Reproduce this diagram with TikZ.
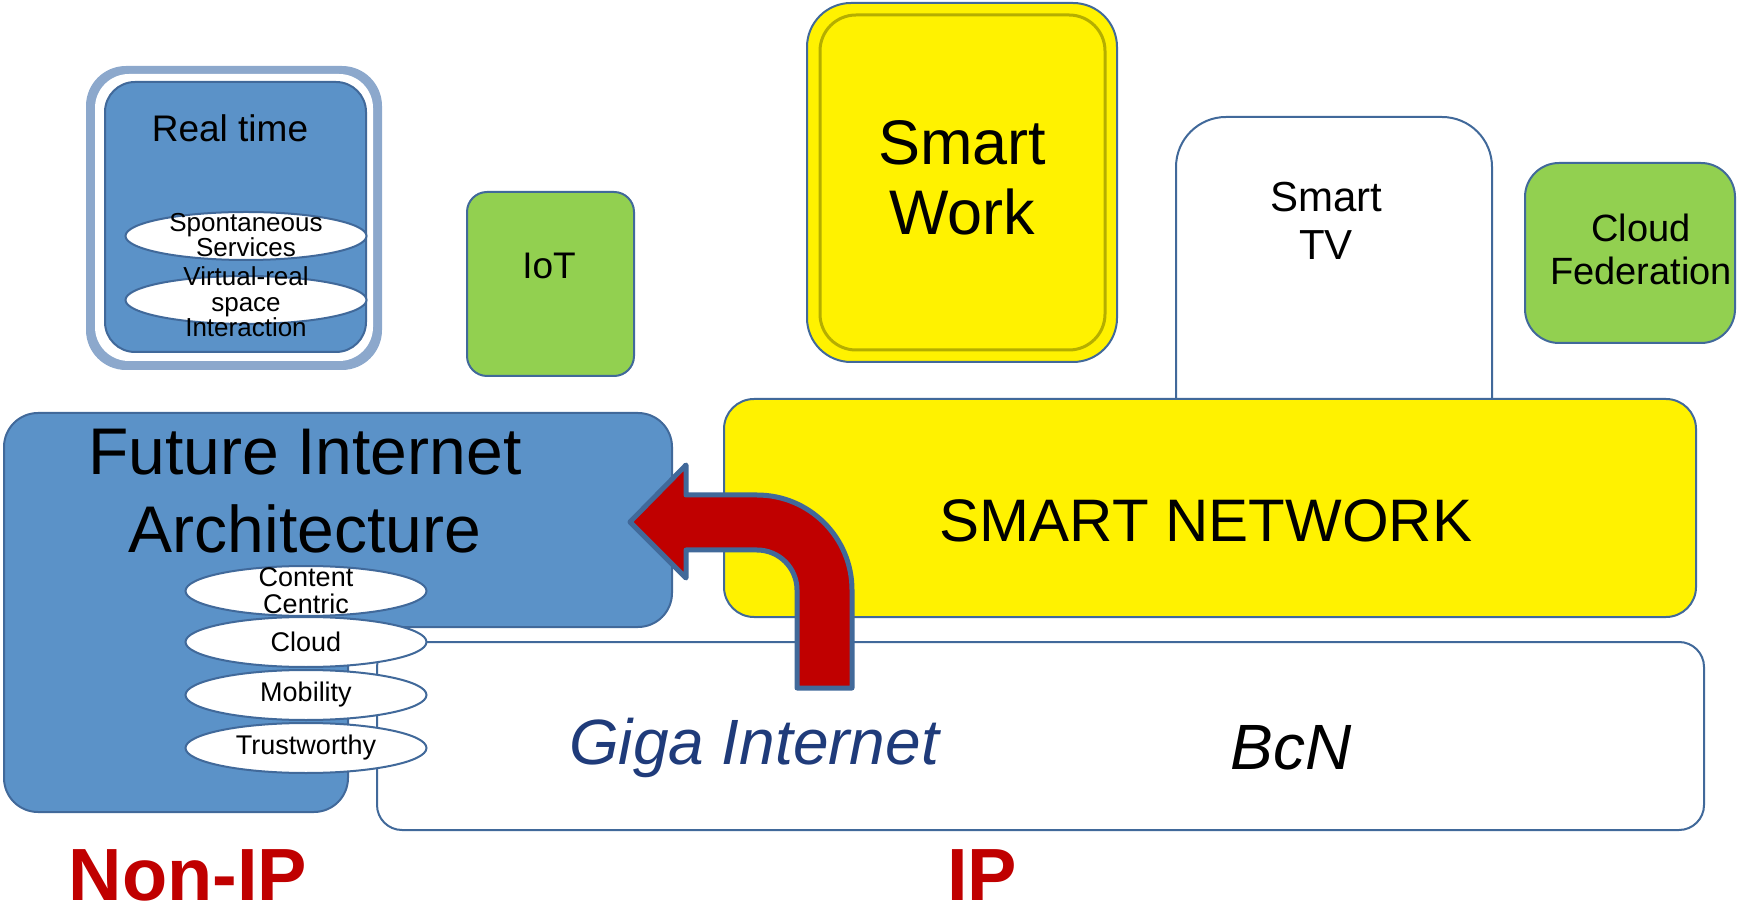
\documentclass[tikz,border=0pt]{standalone}
\usepackage{fontspec}
\setmainfont{Liberation Sans}
\usetikzlibrary{shapes.geometric,positioning}

\begin{document}
\begin{tikzpicture}[x=0.5pt,y=-0.5pt]
  % Colors
  \definecolor{fiablue}{HTML}{5B92C8}
  \definecolor{edgeblue}{HTML}{41699A}
  \definecolor{haloblue}{HTML}{8CA8CC}
  \definecolor{leafgreen}{HTML}{92D050}
  \definecolor{darkolive}{HTML}{B5AE00}
  \definecolor{arrowred}{HTML}{C00000}
  \definecolor{giganavy}{HTML}{1F3B7A}

  % Styles
  \tikzstyle{box}=[draw=edgeblue,line width=1pt,inner sep=0pt]
  \tikzstyle{oval}=[ellipse,draw=edgeblue,line width=1pt,fill=white,minimum width=120.5pt,minimum height=25pt,inner sep=0pt]
  \tikzstyle{oval text}=[align=center,inner sep=0pt,font=\fontsize{13.5}{13.5}\selectfont]
  \tikzstyle{big text}=[align=center,font=\fontsize{32}{38}\selectfont]
  \tikzstyle{side label}=[font=\bfseries\fontsize{37}{40}\selectfont,text=arrowred]

  \useasboundingbox (0,0) rectangle (1738,913);

  % Real time
  \node[fill=haloblue,rounded corners=20pt,minimum width=148pt,minimum height=152pt] (rthalo) at (234,218) {};
  \node[fill=white,rounded corners=17pt,minimum width=139pt,minimum height=143.5pt] (rtring) at (234,217.5) {};
  \node[box,fill=fiablue,rounded corners=15pt,minimum width=130.5pt,minimum height=135pt] (rtbox) at (235.5,217) {};
  \node[font=\fontsize{18.5}{20}\selectfont] (rtlabel) at (230,128) {Real time};
  \node[oval,minimum height=24pt] (spont) at (246,236) {};
  \node[oval text,font=\fontsize{13}{12.5}\selectfont] at (246,235.5) {Spontaneous\\Services};
  \node[oval,minimum height=24pt] (virtual) at (246,300) {};
  \node[oval text,font=\fontsize{13}{12.8}\selectfont] at (246,302) {Virtual-real\\space\\Interaction};

  % IoT
  \node[box,fill=leafgreen,rounded corners=10pt,minimum width=83.5pt,minimum height=92pt] (iot) at (550.5,284) {};
  \node[font=\fontsize{18.5}{20}\selectfont] (iotlabel) at (549,266) {IoT};

  % Smart Work
  \node[box,fill=yellow,rounded corners=22pt,minimum width=155pt,minimum height=179.5pt] (work) at (962,182.5) {};
  \node[draw=darkolive,line width=1.5pt,rounded corners=18pt,minimum width=142.5pt,minimum height=167.5pt] (workin) at (962.5,182.5) {};
  \node[big text,font=\fontsize{31.5}{35}\selectfont] (worklabel) at (962,178) {Smart\\Work};

  % Smart TV and Cloud Federation
  \draw[box,fill=white,rounded corners=25pt] (1176,460) -- (1176,117) -- (1492,117) -- (1492,460);
  \node[align=center,font=\fontsize{21}{24}\selectfont] (tvlabel) at (1326,221) {Smart\\TV};
  \node[box,fill=leafgreen,rounded corners=17pt,minimum width=105pt,minimum height=90pt] (cloudfed) at (1630,253) {};
  \node[align=center,font=\fontsize{19}{21.5}\selectfont] (cloudlabel) at (1641,249) {Cloud\\Federation};

  % Smart network
  \node[box,fill=yellow,rounded corners=15pt,minimum width=486pt,minimum height=109pt] (smartnet) at (1210,508) {};
  \node[font=\fontsize{30}{34}\selectfont] (netlabel) at (1206,521) {SMART NETWORK};

  % Future Internet Architecture
  \draw[box,fill=fiablue,rounded corners=17pt] (4,413) -- (672,413) -- (672,627) -- (348,627) -- (348,812) -- (4,812) -- cycle;
  \node[big text,font=\fontsize{33}{39}\selectfont] (fialabel) at (305,491) {Future Internet\\Architecture};

  % Giga Internet / BcN
  \node[box,fill=white,rounded corners=12.5pt,minimum width=663.5pt,minimum height=94pt] (giga) at (1040.5,736) {};
  \node[font=\itshape\fontsize{32}{36}\selectfont,text=giganavy] (gigalabel) at (754,748) {Giga Internet};
  \node[font=\itshape\fontsize{32}{36}\selectfont] (bcnlabel) at (1291,748) {BcN};

  \foreach \nm/\yy/\txt in {content/591/{Content\\Centric},cloud/642/Cloud,mobility/695/Mobility,trust/748/Trustworthy}{
    \node[oval] (\nm) at (306,\yy) {};
    \node[oval text] at (\nm) {\txt};
  }

  % the bent arrow
  \draw[draw=edgeblue,fill=arrowred,line width=2.5pt,line join=round]
    (630,522) -- (686,465) -- (686,495) -- (757,495)
    .. controls (809.5,495) and (852,537.5) .. (852,590) -- (852,688) -- (797,688) -- (797,590)
    .. controls (797,567.9) and (779.1,550) .. (757,550) -- (686,550) -- (686,578) -- cycle;

  % Non-IP / IP
  \node[side label] (nonip) at (188,875) {Non-IP};
  \node[side label] (ip) at (982,875) {IP};
\end{tikzpicture}
\end{document}
